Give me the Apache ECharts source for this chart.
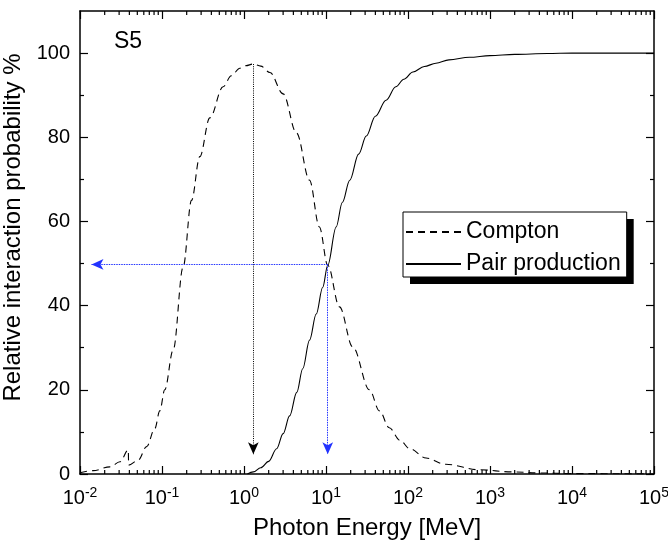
<!DOCTYPE html>
<html><head><meta charset="utf-8">
<script src="https://cdn.jsdelivr.net/npm/echarts@6/dist/echarts.min.js"></script>
<style>html,body{margin:0;padding:0;background:#fff}#c{width:668px;height:542px}</style>
</head><body><div id="c"></div>
<script>
// ---- data ----
const comptonEnergy = [0.01, 0.0145, 0.0232, 0.0307, 0.0388, 0.0392, 0.0513, 0.0649, 0.0818, 0.094, 0.108, 0.137, 0.181, 0.229, 0.289, 0.383, 0.556, 0.7, 0.89, 1.05, 1.3, 1.6, 2.07, 3.0, 4.37, 6.3, 8.3, 10.5, 14.6, 21.2, 33.9, 44.9, 59, 80, 105, 166, 288, 741, 1862, 4000, 10000, 100000];
const comptonValue  = [0.3, 0.8, 1.7, 2.9, 5.7, 2.1, 3.3, 6.5, 10.8, 15, 20, 29.5, 49.2, 65, 75.4, 84.6, 92, 94.6, 96.4, 97.0, 97.4, 96.9, 95.4, 90.3, 81, 69.8, 58.7, 49.6, 39.7, 30.2, 20, 15, 11, 8, 6, 3.8, 2.3, 1.0, 0.5, 0.25, 0.1, 0];

const pairEnergy = [1.1, 1.3, 1.6, 2.0, 2.5, 3.0, 3.6, 4.4, 5.2, 6.3, 7.6, 9.1, 10.5, 13.3, 15.8, 19.5, 25, 31, 40, 54, 71, 89, 115, 158, 219, 316, 562, 1000, 2000, 5000, 10000, 100000];
const pairValue  = [0, 0.5, 1.5, 3.0, 6.0, 9.6, 13.8, 19.4, 25, 31.8, 38, 44.3, 49.6, 58.7, 64.5, 69.8, 76, 80.3, 85, 88.8, 92, 93.8, 95.5, 96.8, 97.6, 98.4, 99.0, 99.4, 99.7, 99.9, 100, 100];

// guide arrows: [energy, value]
const peakPoint = [1.3, 97.4];
const crossPoint = [10.5, 49.8];
const arrowEndValue = 4.7;     // vertical arrows end (value)
const arrowEndEnergy = 0.0138; // horizontal arrow end (energy)

const xTickLabels = [0.01, 0.1, 1, 10, 100, 1000, 10000, 100000];
const yTickLabels = [0, 20, 40, 60, 80, 100];
const yMinorTicks = [10, 30, 50, 70, 90];
const xMinorTicks = [];
for (let d = -2; d < 5; d++) for (let m = 2; m <= 9; m++) xMinorTicks.push(+(m * Math.pow(10, d)).toPrecision(3));

const seriesNames = ['Compton', 'Pair production'];
const panelLabel = 'S5';

// ---- chart ----
const FONT = '"Liberation Sans", Arial, Helvetica, sans-serif';
const zip = (a, b) => a.map((v, i) => [v, b[i]]);
const chart = echarts.init(document.getElementById('c'));
const Y_MAX = 110;

function xAxis(pos, main) {
  return {
    type: 'log', logBase: 10, min: 0.01, max: 100000, position: pos,
    axisLine: { show: true, onZero: false, lineStyle: { color: '#000', width: 1.5 } },
    axisTick: { show: true, inside: true, length: 8, customValues: xTickLabels, lineStyle: { color: '#000', width: 1.2 } },
    axisLabel: main ? {
      show: true, customValues: xTickLabels, margin: 12, color: '#000',
      formatter: v => '{b|10}{s|' + Math.round(Math.log10(v)) + '}',
      rich: {
        b: { fontSize: 20, fontFamily: FONT, color: '#000' },
        s: { fontSize: 14, fontFamily: FONT, color: '#000', padding: [0, 0, 10, 0] }
      }
    } : { show: false },
    splitLine: { show: false }, minorTick: { show: false }, minorSplitLine: { show: false },
    name: main ? 'Photon Energy [MeV]' : '',
    nameLocation: 'middle', nameGap: 42,
    nameTextStyle: { fontSize: 24, fontFamily: FONT, color: '#000' }
  };
}
function yAxis(pos, ticks, len, main, label) {
  return {
    type: 'value', min: 0, max: Y_MAX, position: pos,
    axisLine: { show: main, onZero: false, lineStyle: { color: '#000', width: 1.5 } },
    axisTick: { show: true, inside: true, length: len, customValues: ticks, lineStyle: { color: '#000', width: 1.2 } },
    axisLabel: label ? { show: true, customValues: yTickLabels, margin: 10, fontSize: 20, fontFamily: FONT, color: '#000' } : { show: false },
    splitLine: { show: false }, minorTick: { show: false },
    name: label ? 'Relative interaction probability %' : '',
    nameLocation: 'middle', nameGap: 46, nameRotate: 90,
    nameTextStyle: { fontSize: 24, fontFamily: FONT, color: '#000', padding: [0, 0, 0, 30] }
  };
}

const legendBase = {
  data: seriesNames, orient: 'vertical', left: 403, top: 212,
  itemWidth: 55, itemHeight: 14, itemGap: 6, padding: [7, 6, 0, 2],
  selectedMode: false, borderRadius: 0,
  itemStyle: { opacity: 0, borderWidth: 0 },
  textStyle: { fontSize: 23, fontFamily: FONT, color: '#000', lineHeight: 26 }
};

const blue = '#2233ff';
const option = {
  backgroundColor: '#fff',
  animation: false,
  grid: { left: 80, right: 14, top: 11, bottom: 68, containLabel: false, outerBoundsMode: 'none' },
  title: { text: panelLabel, left: 114, top: 30, padding: 0,
    textStyle: { fontSize: 23, fontWeight: 'normal', fontFamily: FONT, color: '#000' } },
  legend: [
    // filled box with hard drop shadow (no stroke, so the shadow stays behind)
    Object.assign({}, legendBase, {
      backgroundColor: '#fff', borderWidth: 0,
      shadowColor: '#000', shadowOffsetX: 7, shadowOffsetY: 7, shadowBlur: 0
    }),
    // same box again: only the frame
    Object.assign({}, legendBase, {
      backgroundColor: 'rgba(0,0,0,0)', borderColor: '#000', borderWidth: 1,
      lineStyle: { opacity: 0 },
      textStyle: Object.assign({}, legendBase.textStyle, { color: 'rgba(0,0,0,0)' })
    })
  ],
  xAxis: [
    xAxis('bottom', true),
    xAxis('top', false)
  ],
  yAxis: [
    yAxis('left', yTickLabels, 8, true, true),
    yAxis('left', yMinorTicks, 4, false, false),
    yAxis('right', yTickLabels, 8, true, false),
    yAxis('right', yMinorTicks, 4, false, false)
  ],
  series: [
    {
      name: seriesNames[0], type: 'line', xAxisIndex: 0, yAxisIndex: 0,
      data: zip(comptonEnergy, comptonValue), symbol: 'none',
      smooth: 0.35, smoothMonotone: 'x',
      color: '#000',
      lineStyle: { color: '#000', width: 1.1, type: [7, 5] },
      markLine: {
        silent: true, symbol: ['none', 'arrow'], symbolSize: [8, 12],
        label: { show: false }, emphasis: { disabled: true },
        data: [
          [{ coord: [peakPoint[0], peakPoint[1]], lineStyle: { color: '#000', width: 1, type: [1, 1.2] } },
           { coord: [peakPoint[0], arrowEndValue] }],
          [{ coord: [crossPoint[0], crossPoint[1]], lineStyle: { color: blue, width: 1, type: [1.5, 1] } },
           { coord: [arrowEndEnergy, crossPoint[1]] }],
          [{ coord: [crossPoint[0], crossPoint[1]], lineStyle: { color: blue, width: 1, type: [1.5, 1] } },
           { coord: [crossPoint[0], arrowEndValue] }]
        ]
      }
    },
    {
      name: seriesNames[1], type: 'line', xAxisIndex: 0, yAxisIndex: 0,
      data: zip(pairEnergy, pairValue), symbol: 'none',
      smooth: 0.35, smoothMonotone: 'x',
      color: '#000',
      lineStyle: { color: '#000', width: 1.1, type: 'solid' }
    },
    {
      // minor log ticks on the bottom and top axes, placed through the axis scale
      name: 'minorTicks', type: 'custom', xAxisIndex: 0, yAxisIndex: 0,
      data: xMinorTicks.map(v => [v]), silent: true, clip: false, z: 5,
      renderItem: (params, api) => {
        const b = api.coord([api.value(0), 0]);
        const t = api.coord([api.value(0), Y_MAX]);
        const st = { stroke: '#000', lineWidth: 1.2 };
        return { type: 'group', children: [
          { type: 'line', shape: { x1: b[0], y1: b[1], x2: b[0], y2: b[1] - 4 }, style: st },
          { type: 'line', shape: { x1: t[0], y1: t[1], x2: t[0], y2: t[1] + 4 }, style: st }
        ] };
      }
    }
  ]
};
chart.setOption(option);
</script>
</body></html>
